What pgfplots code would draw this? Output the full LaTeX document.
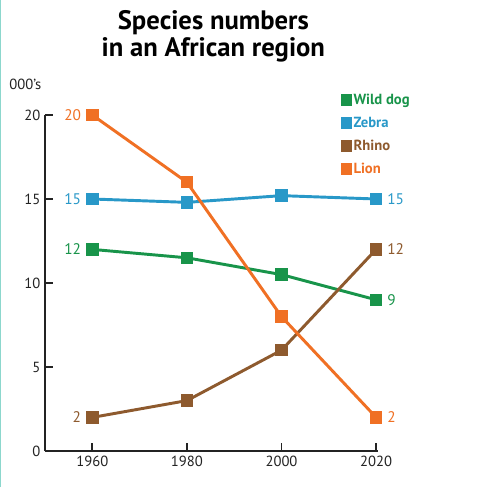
\documentclass[border=0pt]{standalone}
\usepackage{pgfplots}
\pgfplotsset{compat=1.18}
\usepackage{fontspec}
\setmainfont{PT Sans}
\definecolor{dog}{RGB}{24,148,74}
\definecolor{zebra}{RGB}{40,152,200}
\definecolor{rhino}{RGB}{142,90,46}
\definecolor{lion}{RGB}{240,112,36}
\definecolor{axisc}{RGB}{35,35,35}
\definecolor{edge}{RGB}{140,215,205}
\begin{document}
\begin{tikzpicture}
\useasboundingbox (0,0) rectangle (375pt,365.25pt);
\fill[white] (0,0) rectangle (375pt,365.25pt);
\draw[edge, line width=1pt] (0.5pt,0) -- (0.5pt,365.25pt);
\node[font=\fontsize{20}{20}\selectfont\bfseries, align=center] at (160pt,338pt) {Species numbers\\in an African region};
\node[font=\fontsize{11}{13}\selectfont, text=axisc] at (19pt,302.25pt) {000’s};
\begin{axis}[
 at={(33.75pt,27pt)}, anchor=south west, scale only axis,
 width=249.75pt, height=252pt,
 xmin=1950, xmax=2020.4, ymin=0, ymax=20,
 clip=false,
 axis x line=bottom, axis y line=left,
 axis line style={-, line width=1.4pt, axisc},
 xtick={1960,1980,2000,2020}, ytick={0,5,10,15,20},
 tick align=inside, major tick length=6pt,
 tick style={line width=1.4pt, axisc},
 /pgf/number format/1000 sep={},
 /pgf/number format/assume math mode=true,
 tick label style={font=\fontsize{11}{13}\selectfont, text=axisc},
 every axis plot/.append style={line width=2.2pt, mark=square*, mark size=3.6pt, mark options={solid}},
 legend style={at={(rel axis cs:0.88,1.08)}, anchor=north west, draw=none, fill=none,
   font=\fontsize{11}{12}\selectfont\bfseries, row sep=4pt,
   /tikz/every even column/.append style={column sep=1pt}},
 legend cell align=left,
 legend image code/.code={\draw[#1, only marks, mark size=3.2pt] plot coordinates {(0.1cm,0cm)};},
]
\addplot[color=dog] coordinates {(1960,12) (1980,11.5) (2000,10.5) (2020,9)}
  node[pos=0, left, xshift=-4pt, font=\fontsize{11.5}{13}\selectfont, text=dog]{12}
  node[pos=1, right, xshift=4pt, font=\fontsize{11.5}{13}\selectfont, text=dog]{9};
\addlegendentry{\textcolor{dog}{Wild dog}}
\addplot[color=zebra] coordinates {(1960,15) (1980,14.8) (2000,15.2) (2020,15)}
  node[pos=0, left, xshift=-4pt, font=\fontsize{11.5}{13}\selectfont, text=zebra]{15}
  node[pos=1, right, xshift=4pt, font=\fontsize{11.5}{13}\selectfont, text=zebra]{15};
\addlegendentry{\textcolor{zebra}{Zebra}}
\addplot[color=rhino] coordinates {(1960,2) (1980,3) (2000,6) (2020,12)}
  node[pos=0, left, xshift=-4pt, font=\fontsize{11.5}{13}\selectfont, text=rhino]{2}
  node[pos=1, right, xshift=4pt, font=\fontsize{11.5}{13}\selectfont, text=rhino]{12};
\addlegendentry{\textcolor{rhino}{Rhino}}
\addplot[color=lion] coordinates {(1960,20) (1980,16) (2000,8) (2020,2)}
  node[pos=0, left, xshift=-4pt, font=\fontsize{11.5}{13}\selectfont, text=lion]{20}
  node[pos=1, right, xshift=4pt, font=\fontsize{11.5}{13}\selectfont, text=lion]{2};
\addlegendentry{\textcolor{lion}{Lion}}
\end{axis}
\end{tikzpicture}
\end{document}
